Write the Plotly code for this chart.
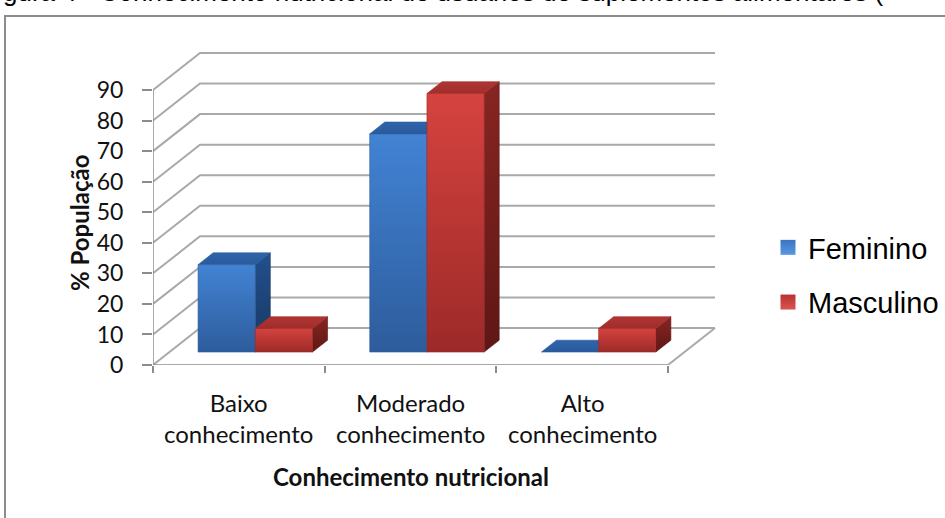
import plotly.graph_objects as go

# ---------------- data ----------------
categories = ["Baixo<br>conhecimento", "Moderado<br>conhecimento", "Alto<br>conhecimento"]
series_names = ["Feminino", "Masculino"]
feminino = [28.6, 71.4, 0.0]
masculino = [7.7, 84.6, 7.7]
y_ticks = [0, 10, 20, 30, 40, 50, 60, 70, 80, 90]
x_title = "Conhecimento nutricional"
y_title = "% População"
caption = "gura 4 - Conhecimento nutricional de usuários de suplementos alimentares ("

# ---------------- geometry ----------------
W, H = 945, 518
L_PX, R_PX, T_PX, B_PX = 153, 720, 40, 365
N = len(categories)
PX_PER_X = (668 - L_PX) / N
PX_PER_Y = (B_PX - 90) / y_ticks[-1]
XMAX = (R_PX - L_PX) / PX_PER_X
YMAX = (B_PX - T_PX) / PX_PER_Y
DX = 47 / PX_PER_X          # depth offset of the back wall (x units)
DY = 37 / PX_PER_Y          # depth offset of the back wall (value units)
D0, D1 = 0.35, 0.67         # bar depth (front / back) as fraction of floor depth
BAR_W = 1 / 3
GROUP_START = 1 / 6


def pxx(px):
    return (px - L_PX) / (R_PX - L_PX)


def pxy(py):
    return (B_PX - py) / (B_PX - T_PX)


styles = {
    "Feminino": dict(front=("#2D5C9C", "#4283D4"), side=("#173863", "#22508C"),
                     top=("#2A5A9C", "#2F64AA"), leg=("#3A74C0", "#5A98E2")),
    "Masculino": dict(front=("#9C2A28", "#D5433F"), side=("#5E1715", "#882522"),
                      top=("#A02D2B", "#B03533"), leg=("#B83230", "#DA5451")),
}

fig = go.Figure()

# ---------------- walls / floor ----------------
gx, gy = [], []
for v in y_ticks:
    gx += [0, DX, N + DX, None]
    gy += [v, v + DY, v + DY, None]
gx += [N, N + DX, None]
gy += [0, DY, None]
fig.add_trace(go.Scatter(x=gx, y=gy, mode="lines", line=dict(color="#A9A9A9", width=2),
                         hoverinfo="skip", showlegend=False))
fig.add_trace(go.Scatter(x=[0, N, None, 0, 0], y=[0, 0, None, 0, y_ticks[-1]], mode="lines",
                         line=dict(color="#8C8C8C", width=1.5), hoverinfo="skip", showlegend=False))


def face(xs, ys, cols):
    return go.Scatter(x=xs + [xs[0]], y=ys + [ys[0]], mode="lines", fill="toself",
                      line=dict(width=0.6, color=cols[0]),
                      fillgradient=dict(type="vertical", colorscale=[[0, cols[0]], [1, cols[1]]]),
                      hoverinfo="skip", showlegend=False)


dd = D1 - D0
for i in range(N):
    for s, (name, vals) in enumerate(zip(series_names, [feminino, masculino])):
        v = vals[i]
        st = styles[name]
        a = i + GROUP_START + s * BAR_W + D0 * DX
        b = D0 * DY
        ox, oy = dd * DX, dd * DY
        if v > 0:
            fig.add_trace(face([a + BAR_W, a + BAR_W + ox, a + BAR_W + ox, a + BAR_W],
                               [b, b + oy, b + v + oy, b + v], st["side"]))
        fig.add_trace(face([a, a + BAR_W, a + BAR_W + ox, a + ox],
                           [b + v, b + v, b + v + oy, b + v + oy], st["top"]))
        if v > 0:
            fig.add_trace(face([a, a + BAR_W, a + BAR_W, a],
                               [b, b, b + v, b + v], st["front"]))

# ---------------- legend entries ----------------
for k, name in enumerate(series_names):
    c_top, c_bot = styles[name]["leg"]
    fig.add_trace(go.Scatter(x=[None], y=[None], mode="markers", name=name,
                             legendgroup=name,
                             marker=dict(symbol="square", size=15, color=c_top,
                                         gradient=dict(type="vertical", color=c_bot),
                                         line=dict(width=0))))

# ---------------- annotations ----------------
ann = []
for i, c in enumerate(categories):
    ann.append(dict(x=i + 0.5, xref="x", y=pxy(386), yref="paper", text=c, showarrow=False,
                    xanchor="center", yanchor="top",
                    font=dict(family="Lato", size=24, color="#111111")))
ann.append(dict(x=N / 2, xref="x", y=pxy(460), yref="paper", text="<b>" + x_title + "</b>",
                showarrow=False, xanchor="center", yanchor="top",
                font=dict(family="Lato", size=24, color="#111111")))
ann.append(dict(x=pxx(80), xref="paper", y=pxy(223), yref="paper", text="<b>" + y_title + "</b>",
                showarrow=False, xanchor="center", yanchor="middle", textangle=-90,
                font=dict(family="Lato", size=24, color="#111111")))
ann.append(dict(x=pxx(1), xref="paper", y=pxy(9), yref="paper", text=caption,
                showarrow=False, xanchor="left", yanchor="bottom",
                font=dict(family="Liberation Sans", size=26, color="#000000")))

fig.update_layout(
    width=W, height=H,
    margin=dict(l=L_PX, r=W - R_PX, t=T_PX, b=H - B_PX, pad=0, autoexpand=False),
    paper_bgcolor="white", plot_bgcolor="white",
    xaxis=dict(range=[0, XMAX], tickvals=list(range(N + 1)), ticks="outside", ticklen=7,
               tickcolor="#8C8C8C", tickwidth=1.5, showticklabels=False, showgrid=False,
               zeroline=False, showline=False, fixedrange=True),
    yaxis=dict(range=[0, YMAX], tickvals=y_ticks, ticks="outside", ticklen=10,
               tickcolor="#8C8C8C", tickwidth=1.5, ticklabelstandoff=14,
               tickfont=dict(family="Lato", size=23, color="#111111"),
               showgrid=False, zeroline=False, showline=False, fixedrange=True),
    legend=dict(x=pxx(768), xanchor="left", y=pxy(222), yanchor="top",
                font=dict(family="Liberation Sans", size=29, color="#000000"),
                bgcolor="rgba(0,0,0,0)", tracegroupgap=14, itemclick=False),
    annotations=ann,
    shapes=[dict(type="rect", xref="paper", yref="paper", x0=pxx(5), x1=pxx(980),
                 y0=pxy(540), y1=pxy(16), line=dict(color="#8C8C8C", width=2), layer="below")],
    showlegend=True,
)

fig.write_html("out.html")
